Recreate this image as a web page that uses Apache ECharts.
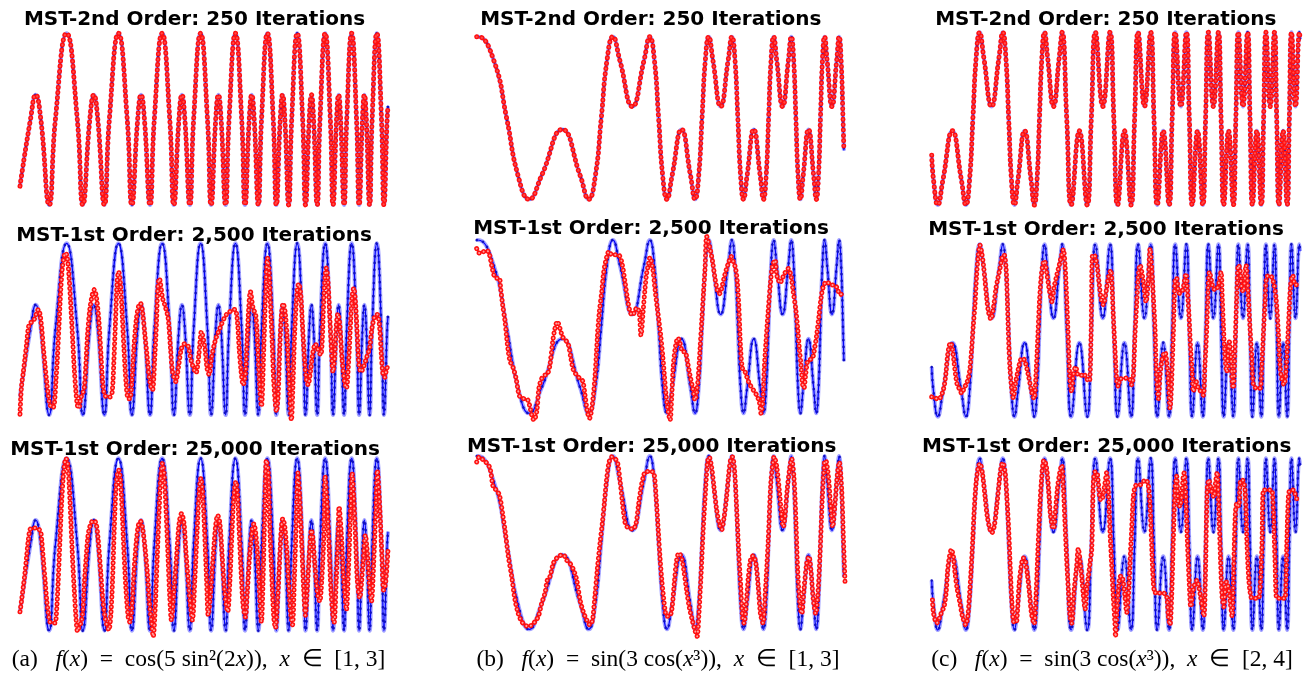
<!DOCTYPE html>
<html><head><meta charset="utf-8">
<script src="https://cdn.jsdelivr.net/npm/echarts@6/dist/echarts.min.js"></script>
<style>html,body{margin:0;padding:0;background:#fff}#c{width:1306px;height:675px}</style>
</head><body><div id="c"></div>
<script>
// ---------- data: true function curves (key points) ----------
const blueA = [[1.000,-0.78],[1.0571,0],[1.0854,0.284],[1.1130,0],[1.1586,-1],[1.1925,0],[1.2533,1],
[1.3113,0],[1.3414,-1],[1.3795,0],[1.4013,0.284],[1.4227,0],[1.4587,-1],[1.4858,0],[1.5350,1],
[1.5827,0],[1.6077,-1],[1.6396,0],[1.6580,0.284],[1.6762,0],[1.7068,-1],[1.7300,0],[1.7725,1],
[1.8139,0],[1.8358,-1],[1.8638,0],[1.8800,0.284],[1.8960,0],[1.9231,-1],[1.9438,0],[1.9817,1],
[2.0188,0],[2.0385,-1],[2.0637,0],[2.0784,0.284],[2.0929,0],[2.1175,-1],[2.1363,0],[2.1708,1],
[2.2048,0],[2.2228,-1],[2.2460,0],[2.2594,0.284],[2.2728,0],[2.2955,-1],[2.3128,0],[2.3447,1],
[2.3762,0],[2.3930,-1],[2.4145,0],[2.4270,0.284],[2.4395,0],[2.4606,-1],[2.4768,0],[2.5066,1],
[2.5361,0],[2.5518,-1],[2.5720,0],[2.5838,0.284],[2.5955,0],[2.6153,-1],[2.6306,0],[2.6587,1],
[2.6865,0],[2.7013,-1],[2.7204,0],[2.7316,0.284],[2.7426,0],[2.7615,-1],[2.7759,0],[2.8025,1],
[2.8289,0],[2.8430,-1],[2.8612,0],[2.8717,0.284],[2.8822,0],[2.9002,-1],[2.9139,0],[2.9393,1],
[2.9645,0],[2.9779,-1],[2.9953,0],[3.000,0.15]];

const blueB = [[1.0,0.999],[1.0065,1],[1.0930,0.707],[1.1624,0],[1.2243,-0.707],[1.2851,-1],[1.3525,-0.707],[1.4646,-0.141],[1.5618,-0.707],[1.6084,-1],[1.6446,-0.707],[1.6765,0],[1.7074,0.707],[1.7395,1],[1.7775,0.707],[1.8453,0.141],[1.9084,0.707],[1.9401,1],[1.9652,0.707],[1.9878,0],[2.0098,-0.707],[2.0332,-1],[2.0612,-0.707],[2.1123,-0.141],[2.1610,-0.707],[2.1859,-1],[2.2057,-0.707],[2.2237,0],[2.2414,0.707],[2.2602,1],[2.2830,0.707],[2.3249,0.141],[2.3653,0.707],[2.3862,1],[2.4028,0.707],[2.4180,0],[2.4330,-0.707],[2.4490,-1],[2.4684,-0.707],[2.5044,-0.141],[2.5394,-0.707],[2.5575,-1],[2.5720,-0.707],[2.5852,0],[2.5984,0.707],[2.6125,1],[2.6295,0.707],[2.6613,0.141],[2.6924,0.707],[2.7085,1],[2.7214,0.707],[2.7333,0],[2.7450,-0.707],[2.7576,-1],[2.7730,-0.707],[2.8017,-0.141],[2.8297,-0.707],[2.8443,-1],[2.8561,-0.707],[2.8668,0],[2.8775,0.707],[2.8890,1],[2.9030,0.707],[2.9292,0.141],[2.9549,0.707],[2.9683,1],[2.9790,0.707],[2.9890,0],[2.9940,-0.40]];

const blueC = [[2.0000,-0.423],[2.0098,-0.707],[2.0332,-1],[2.0612,-0.707],[2.1123,-0.141],[2.1610,-0.707],[2.1859,-1],[2.2057,-0.707],[2.2237,0],[2.2414,0.707],[2.2602,1],[2.2830,0.707],[2.3249,0.141],[2.3653,0.707],[2.3862,1],[2.4028,0.707],[2.4180,0],[2.4330,-0.707],[2.4490,-1],[2.4684,-0.707],[2.5044,-0.141],[2.5394,-0.707],[2.5575,-1],[2.5720,-0.707],[2.5852,0],[2.5984,0.707],[2.6125,1],[2.6295,0.707],[2.6613,0.141],[2.6924,0.707],[2.7085,1],[2.7333,0],[2.7576,-1],[2.8017,-0.141],[2.8443,-1],[2.8668,0],[2.8890,1],[2.9292,0.141],[2.9683,1],[2.9890,0],[3.0094,-1],[3.0465,-0.141],[3.0827,-1],[3.1019,0],[3.1208,1],[3.1554,0.141],[3.1891,1],[3.2071,0],[3.2249,-1],[3.2572,-0.141],[3.2890,-1],[3.3058,0],[3.3226,1],[3.3531,0.141],[3.3830,1],[3.3990,0],[3.4149,-1],[3.4437,-0.141],[3.4722,-1],[3.4873,0],[3.5024,1],[3.5298,0.141],[3.5569,1],[3.5714,0],[3.5858,-1],[3.6120,-0.141],[3.6379,-1],[3.6517,0],[3.6654,1],[3.6905,0.141],[3.7153,1],[3.7286,0],[3.7417,-1],[3.7659,-0.141],[3.7897,-1],[3.8025,0],[3.8151,1],[3.8383,0.141],[3.8613,1],[3.8735,0],[3.8857,-1],[3.9081,-0.141],[3.9302,-1],[3.9421,0],[3.9539,1],[3.9755,0.141],[3.9969,1],[4.0000,0.92]];

// ---------- data: approximations ----------
const redA2 = [[1.000,-0.99],[1.004,-0.80],[1.009,-0.65],[1.018,-0.50],[1.027,-0.34],[1.036,-0.17],[1.045,0.01],[1.054,0.07],[1.072,0.09],[1.087,0.17],[1.100,0.23],[1.109,0.17],[1.118,0.01],[1.127,-0.22],[1.136,-0.42],[1.145,-0.61],[1.154,-0.77],[1.163,-0.88],[1.177,-0.92],[1.186,-0.88],[1.195,-0.61],[1.203,-0.34],[1.212,0.05],[1.221,0.44],[1.230,0.71],[1.241,0.86],[1.248,0.89],[1.257,0.83],[1.266,0.63],[1.275,0.32],[1.286,-0.11],[1.295,-0.46],[1.304,-0.73],[1.313,-0.90],[1.320,-0.92],[1.329,-0.81],[1.340,-0.75],[1.349,-0.69],[1.358,-0.42],[1.367,-0.07],[1.380,0.24],[1.395,0.42],[1.404,0.46],[1.416,0.36],[1.429,0.09],[1.440,-0.30],[1.449,-0.61],[1.458,-0.75],[1.471,-0.79],[1.489,-0.79],[1.501,-0.73],[1.510,-0.38],[1.519,0.09],[1.528,0.55],[1.536,0.67],[1.545,0.55],[1.554,0.24],[1.565,-0.22],[1.576,-0.61],[1.588,-0.81],[1.597,-0.81],[1.608,-0.61],[1.619,-0.22],[1.633,0.13],[1.646,0.28],[1.655,0.30],[1.666,0.20],[1.679,-0.07],[1.690,-0.30],[1.699,-0.50],[1.709,-0.65],[1.720,-0.71],[1.733,-0.30],[1.742,0.09],[1.749,0.48],[1.757,0.59],[1.775,0.36],[1.787,0.28],[1.805,0.13],[1.818,-0.22],[1.829,-0.50],[1.847,-0.61],[1.860,-0.46],[1.878,-0.22],[1.896,-0.17],[1.914,-0.20],[1.932,-0.38],[1.956,-0.51],[1.972,-0.30],[1.986,-0.03],[2.005,-0.22],[2.017,-0.46],[2.028,-0.53],[2.041,-0.34],[2.059,-0.15],[2.086,0.01],[2.122,0.17],[2.167,0.23],[2.180,0.13],[2.191,-0.22],[2.202,-0.50],[2.213,-0.65],[2.225,-0.53],[2.234,-0.15],[2.243,0.24],[2.252,0.44],[2.267,0.24],[2.281,0.17],[2.294,-0.30],[2.303,-0.69],[2.312,-0.90],[2.325,-0.22],[2.334,0.36],[2.345,0.83],[2.354,0.67],[2.361,0.32],[2.372,-0.22],[2.379,-0.61],[2.394,-0.96],[2.403,-0.77],[2.412,-0.22],[2.421,0.17],[2.430,0.30],[2.441,0.20],[2.452,-0.11],[2.461,-0.53],[2.475,-1.06],[2.484,-0.61],[2.493,-0.03],[2.506,0.44],[2.515,0.53],[2.526,0.40],[2.535,0.05],[2.546,-0.34],[2.557,-0.59],[2.566,-0.65],[2.578,-0.50],[2.593,-0.26],[2.605,-0.17],[2.616,-0.22],[2.634,-0.30],[2.642,-0.15],[2.651,0.36],[2.660,0.67],[2.665,0.71],[2.674,0.55],[2.683,0.17],[2.692,-0.22],[2.701,-0.50],[2.710,-0.34],[2.719,0.05],[2.728,0.18],[2.738,0.05],[2.750,-0.34],[2.765,-0.63],[2.774,-0.69],[2.786,-0.38],[2.797,0.09],[2.806,0.40],[2.814,0.48],[2.823,0.32],[2.832,-0.03],[2.841,-0.38],[2.852,-0.50],[2.864,-0.46],[2.882,-0.34],[2.900,-0.22],[2.913,0.01],[2.928,0.15],[2.942,0.17],[2.955,0.01],[2.964,-0.30],[2.973,-0.53],[2.982,-0.56],[2.991,-0.48],[3.000,-0.42]];

const redA3 = [[1.000,-0.78],[1.009,-0.64],[1.018,-0.49],[1.027,-0.33],[1.036,-0.14],[1.045,0.05],[1.054,0.17],[1.063,0.19],[1.081,0.19],[1.100,0.18],[1.112,0.15],[1.118,0.05],[1.127,-0.18],[1.136,-0.41],[1.145,-0.64],[1.154,-0.80],[1.163,-0.90],[1.172,-0.91],[1.190,-0.91],[1.199,-0.76],[1.208,-0.41],[1.217,0.05],[1.226,0.48],[1.235,0.79],[1.244,0.96],[1.250,1.00],[1.259,0.94],[1.268,0.67],[1.277,0.25],[1.286,-0.18],[1.295,-0.53],[1.304,-0.84],[1.313,-1.01],[1.322,-0.95],[1.333,-0.90],[1.342,-0.76],[1.351,-0.41],[1.360,-0.14],[1.369,0.09],[1.380,0.21],[1.398,0.28],[1.413,0.25],[1.425,0.05],[1.438,-0.30],[1.449,-0.61],[1.462,-0.84],[1.474,-0.95],[1.483,-0.99],[1.494,-0.80],[1.503,-0.41],[1.512,0.17],[1.521,0.63],[1.530,0.83],[1.537,0.86],[1.546,0.75],[1.555,0.40],[1.564,-0.03],[1.575,-0.49],[1.588,-0.84],[1.597,-0.90],[1.610,-0.68],[1.620,-0.30],[1.633,0.05],[1.644,0.23],[1.655,0.27],[1.666,0.19],[1.679,-0.03],[1.692,-0.33],[1.702,-0.64],[1.715,-0.91],[1.724,-1.07],[1.735,-0.72],[1.746,-0.14],[1.757,0.44],[1.765,0.79],[1.774,0.94],[1.783,0.83],[1.792,0.48],[1.803,-0.06],[1.814,-0.61],[1.823,-0.88],[1.836,-0.57],[1.851,-0.14],[1.865,0.25],[1.878,0.36],[1.891,0.25],[1.901,-0.06],[1.914,-0.41],[1.927,-0.72],[1.937,-0.88],[1.950,-0.41],[1.963,0.17],[1.974,0.63],[1.983,0.77],[1.992,0.63],[2.003,0.17],[2.014,-0.41],[2.023,-0.82],[2.037,-0.53],[2.050,-0.14],[2.063,0.21],[2.074,0.34],[2.086,0.25],[2.099,-0.14],[2.110,-0.49],[2.122,-0.72],[2.129,-0.78],[2.140,-0.45],[2.151,0.09],[2.162,0.56],[2.173,0.73],[2.182,0.59],[2.191,0.17],[2.202,-0.33],[2.213,-0.72],[2.225,-0.84],[2.236,-0.53],[2.249,-0.10],[2.262,0.17],[2.271,0.24],[2.281,0.13],[2.294,-0.22],[2.303,-0.61],[2.312,-0.90],[2.321,-0.41],[2.330,0.36],[2.339,0.98],[2.350,0.83],[2.357,0.25],[2.368,-0.33],[2.379,-0.84],[2.388,-0.97],[2.401,-0.61],[2.412,-0.14],[2.421,0.21],[2.428,0.30],[2.439,0.21],[2.452,-0.14],[2.462,-0.53],[2.473,-0.84],[2.481,-0.93],[2.491,-0.41],[2.502,0.32],[2.510,0.83],[2.520,0.56],[2.531,0.01],[2.542,-0.53],[2.551,-0.82],[2.562,-0.49],[2.575,-0.03],[2.584,0.17],[2.593,0.05],[2.602,-0.22],[2.611,-0.45],[2.620,-0.61],[2.629,-0.66],[2.640,-0.41],[2.651,0.09],[2.658,0.79],[2.669,0.48],[2.680,-0.03],[2.690,-0.53],[2.701,-0.84],[2.707,-0.91],[2.719,-0.41],[2.730,0.17],[2.734,0.44],[2.745,0.17],[2.756,-0.30],[2.767,-0.61],[2.774,-0.76],[2.785,-0.30],[2.796,0.36],[2.805,0.83],[2.814,0.56],[2.824,0.05],[2.833,-0.41],[2.846,-0.62],[2.864,-0.22],[2.877,0.11],[2.888,-0.10],[2.900,-0.49],[2.910,-0.66],[2.922,-0.22],[2.933,0.36],[2.942,0.86],[2.955,0.44],[2.967,-0.14],[2.976,-0.53],[2.987,-0.45],[3.000,-0.06]];

const redB2 = [[1.000,0.90],[1.014,0.85],[1.027,0.85],[1.040,0.87],[1.054,0.88],[1.067,0.85],[1.081,0.71],[1.096,0.58],[1.109,0.56],[1.123,0.56],[1.130,0.44],[1.141,0.25],[1.154,0.06],[1.163,-0.13],[1.172,-0.29],[1.181,-0.40],[1.190,-0.44],[1.199,-0.48],[1.214,-0.60],[1.226,-0.75],[1.235,-0.81],[1.253,-0.83],[1.275,-0.84],[1.286,-0.90],[1.299,-1.02],[1.311,-1.08],[1.326,-0.98],[1.338,-0.71],[1.353,-0.60],[1.371,-0.56],[1.384,-0.55],[1.398,-0.44],[1.413,-0.17],[1.425,-0.02],[1.438,0.06],[1.452,-0.02],[1.467,-0.12],[1.481,-0.15],[1.498,-0.21],[1.512,-0.37],[1.525,-0.50],[1.543,-0.56],[1.561,-0.60],[1.576,-0.63],[1.588,-0.79],[1.601,-0.98],[1.612,-1.06],[1.628,-0.90],[1.643,-0.56],[1.655,-0.13],[1.666,0.17],[1.679,0.40],[1.688,0.60],[1.700,0.75],[1.719,0.87],[1.733,0.83],[1.751,0.83],[1.769,0.83],[1.787,0.75],[1.805,0.52],[1.818,0.33],[1.833,0.17],[1.847,0.13],[1.860,0.19],[1.872,0.22],[1.883,0.15],[1.892,-0.10],[1.905,0.21],[1.914,0.44],[1.923,0.62],[1.932,0.71],[1.941,0.80],[1.956,0.67],[1.968,0.44],[1.981,0.21],[1.990,0.06],[1.999,-0.10],[2.010,-0.33],[2.019,-0.56],[2.028,-0.79],[2.037,-0.94],[2.050,-1.08],[2.059,-0.81],[2.068,-0.44],[2.081,-0.21],[2.093,-0.13],[2.104,-0.19],[2.118,-0.29],[2.131,-0.29],[2.144,-0.40],[2.158,-0.56],[2.173,-0.71],[2.186,-0.85],[2.195,-0.75],[2.204,-0.56],[2.213,-0.25],[2.222,0.06],[2.231,0.37],[2.240,0.67],[2.249,1.04],[2.267,0.90],[2.281,0.75],[2.294,0.56],[2.307,0.42],[2.318,0.38],[2.330,0.44],[2.343,0.56],[2.357,0.67],[2.370,0.75],[2.381,0.81],[2.394,0.75],[2.406,0.67],[2.415,0.52],[2.424,0.21],[2.433,-0.25],[2.443,-0.48],[2.457,-0.52],[2.470,-0.60],[2.484,-0.67],[2.502,-0.73],[2.520,-0.79],[2.535,-0.87],[2.544,-1.00],[2.553,-0.87],[2.562,-0.48],[2.571,-0.17],[2.584,0.21],[2.596,0.52],[2.607,0.71],[2.620,0.77],[2.629,0.60],[2.638,0.54],[2.647,0.50],[2.660,0.56],[2.674,0.62],[2.692,0.67],[2.707,0.58],[2.719,0.40],[2.732,0.21],[2.743,-0.02],[2.752,-0.25],[2.761,-0.44],[2.770,-0.67],[2.777,-0.71],[2.786,-0.56],[2.797,-0.40],[2.810,-0.38],[2.823,-0.37],[2.832,-0.29],[2.846,-0.10],[2.859,0.13],[2.870,0.33],[2.882,0.46],[2.900,0.52],[2.913,0.50],[2.928,0.48],[2.946,0.48],[2.958,0.44],[2.973,0.37],[2.986,0.38],[3.000,0.40]];

const redB3 = [[1.000,0.93],[1.014,0.99],[1.033,0.96],[1.054,0.92],[1.072,0.86],[1.090,0.64],[1.105,0.61],[1.123,0.55],[1.141,0.33],[1.154,0.14],[1.172,-0.16],[1.190,-0.39],[1.208,-0.66],[1.226,-0.82],[1.244,-0.91],[1.262,-0.95],[1.280,-0.97],[1.299,-0.95],[1.317,-0.91],[1.335,-0.85],[1.353,-0.70],[1.371,-0.58],[1.384,-0.43],[1.398,-0.39],[1.416,-0.24],[1.434,-0.18],[1.452,-0.15],[1.470,-0.14],[1.488,-0.20],[1.507,-0.24],[1.525,-0.31],[1.543,-0.43],[1.561,-0.66],[1.579,-0.80],[1.597,-0.89],[1.615,-0.95],[1.629,-0.89],[1.642,-0.62],[1.655,-0.31],[1.670,0.00],[1.682,0.22],[1.693,0.45],[1.705,0.72],[1.718,0.92],[1.733,0.99],[1.751,0.97],[1.765,0.92],[1.778,0.72],[1.792,0.45],[1.805,0.24],[1.818,0.18],[1.833,0.17],[1.847,0.15],[1.865,0.22],[1.878,0.42],[1.892,0.63],[1.905,0.76],[1.917,0.82],[1.932,0.82],[1.950,0.82],[1.963,0.80],[1.974,0.53],[1.986,0.14],[1.995,-0.16],[2.005,-0.43],[2.014,-0.62],[2.023,-0.78],[2.032,-0.85],[2.046,-0.85],[2.059,-0.78],[2.073,-0.47],[2.086,-0.20],[2.098,-0.12],[2.113,-0.18],[2.127,-0.35],[2.140,-0.55],[2.154,-0.74],[2.170,-0.89],[2.185,-1.01],[2.197,-1.08],[2.206,-0.85],[2.217,-0.43],[2.230,0.15],[2.243,0.61],[2.253,0.92],[2.262,0.99],[2.275,0.88],[2.288,0.65],[2.303,0.38],[2.317,0.22],[2.330,0.15],[2.342,0.27],[2.357,0.53],[2.369,0.80],[2.380,0.97],[2.389,0.99],[2.400,0.84],[2.411,0.42],[2.423,-0.12],[2.434,-0.51],[2.443,-0.85],[2.452,-0.93],[2.461,-0.78],[2.474,-0.43],[2.487,-0.20],[2.502,-0.15],[2.516,-0.24],[2.529,-0.51],[2.541,-0.82],[2.555,-0.93],[2.568,-0.55],[2.583,0.02],[2.597,0.68],[2.610,0.95],[2.615,0.99],[2.629,0.88],[2.643,0.61],[2.656,0.30],[2.665,0.18],[2.674,0.30],[2.686,0.61],[2.701,0.88],[2.710,0.97],[2.723,0.75],[2.734,0.22],[2.743,-0.32],[2.756,-0.74],[2.765,-0.82],[2.777,-0.55],[2.792,-0.24],[2.804,-0.16],[2.815,-0.32],[2.828,-0.66],[2.841,-0.82],[2.852,-0.62],[2.864,-0.16],[2.877,0.53],[2.888,0.92],[2.895,0.95],[2.910,0.76],[2.922,0.42],[2.933,0.18],[2.946,0.45],[2.959,0.80],[2.969,0.93],[2.982,0.61],[2.991,0.07],[3.000,-0.45]];

const redC2 = [[2.000,-0.77],[2.018,-0.78],[2.036,-0.80],[2.049,-0.77],[2.060,-0.71],[2.069,-0.63],[2.078,-0.48],[2.087,-0.28],[2.096,-0.17],[2.103,-0.14],[2.112,-0.21],[2.121,-0.36],[2.130,-0.52],[2.139,-0.63],[2.154,-0.69],[2.163,-0.73],[2.176,-0.67],[2.190,-0.61],[2.199,-0.55],[2.208,-0.44],[2.217,-0.21],[2.226,0.06],[2.235,0.30],[2.244,0.64],[2.253,0.88],[2.262,0.99],[2.271,0.91],[2.281,0.76],[2.290,0.57],[2.299,0.37],[2.308,0.22],[2.322,0.13],[2.335,0.26],[2.349,0.49],[2.358,0.59],[2.371,0.72],[2.382,0.84],[2.393,0.88],[2.404,0.72],[2.411,0.33],[2.418,-0.13],[2.425,-0.44],[2.434,-0.67],[2.443,-0.78],[2.456,-0.60],[2.471,-0.44],[2.483,-0.34],[2.494,-0.32],[2.507,-0.36],[2.525,-0.52],[2.543,-0.71],[2.556,-0.79],[2.567,-0.48],[2.576,-0.09],[2.585,0.33],[2.594,0.61],[2.603,0.76],[2.612,0.81],[2.624,0.68],[2.637,0.49],[2.648,0.37],[2.653,0.33],[2.664,0.49],[2.679,0.64],[2.693,0.76],[2.706,0.88],[2.715,0.94],[2.724,0.76],[2.733,0.37],[2.742,-0.13],[2.748,-0.48],[2.755,-0.67],[2.760,-0.71],[2.769,-0.52],[2.782,-0.42],[2.796,-0.52],[2.814,-0.52],[2.824,-0.50],[2.842,-0.56],[2.856,-0.59],[2.865,-0.10],[2.874,0.88],[2.887,0.86],[2.900,0.72],[2.910,0.53],[2.923,0.33],[2.932,0.30],[2.947,0.45],[2.959,0.61],[2.972,0.70],[2.986,0.18],[2.995,-0.21],[3.005,-0.59],[3.014,-0.65],[3.023,-0.56],[3.041,-0.56],[3.059,-0.55],[3.077,-0.57],[3.086,-0.63],[3.095,-0.52],[3.104,-0.05],[3.113,0.30],[3.122,0.64],[3.131,0.76],[3.149,0.57],[3.164,0.33],[3.176,0.57],[3.186,0.95],[3.195,0.72],[3.204,0.37],[3.213,0.01],[3.218,-0.40],[3.225,-0.67],[3.231,-0.79],[3.240,-0.52],[3.249,-0.36],[3.258,-0.28],[3.267,-0.25],[3.276,-0.36],[3.285,-0.59],[3.294,-0.90],[3.312,-0.05],[3.321,0.57],[3.330,0.61],[3.339,0.45],[3.348,0.43],[3.363,0.47],[3.381,0.66],[3.388,0.49],[3.397,0.18],[3.406,-0.21],[3.415,-0.52],[3.421,-0.71],[3.435,-0.59],[3.448,-0.67],[3.462,-0.71],[3.475,-0.75],[3.484,-0.40],[3.493,-0.01],[3.502,0.53],[3.508,0.68],[3.520,0.57],[3.529,0.49],[3.544,0.47],[3.557,0.53],[3.571,0.68],[3.578,0.37],[3.584,0.06],[3.593,-0.32],[3.602,-0.48],[3.611,-0.21],[3.616,-0.13],[3.625,-0.32],[3.633,-0.63],[3.638,-0.67],[3.647,-0.21],[3.656,0.37],[3.665,0.76],[3.674,0.72],[3.683,0.49],[3.692,0.45],[3.707,0.76],[3.719,0.41],[3.729,0.01],[3.738,-0.32],[3.747,-0.63],[3.765,-0.67],[3.783,-0.67],[3.792,-0.44],[3.801,-0.05],[3.810,0.33],[3.819,0.62],[3.837,0.64],[3.855,0.57],[3.870,0.37],[3.882,-0.01],[3.891,-0.40],[3.900,-0.55],[3.913,-0.63],[3.922,-0.52],[3.931,-0.21],[3.940,0.18],[3.949,0.53],[3.960,0.64],[3.973,0.53],[3.985,0.53],[4.000,0.53]];

const redC3 = [[2.004,-0.65],[2.009,-0.79],[2.018,-0.88],[2.027,-0.92],[2.042,-0.86],[2.054,-0.79],[2.067,-0.73],[2.078,-0.57],[2.087,-0.30],[2.096,-0.15],[2.107,-0.06],[2.118,-0.15],[2.127,-0.34],[2.139,-0.53],[2.154,-0.69],[2.167,-0.84],[2.185,-0.94],[2.196,-0.84],[2.205,-0.61],[2.214,-0.30],[2.223,0.05],[2.230,0.36],[2.241,0.71],[2.253,0.90],[2.262,0.94],[2.275,0.83],[2.290,0.55],[2.302,0.32],[2.317,0.17],[2.326,0.13],[2.339,0.20],[2.353,0.44],[2.366,0.71],[2.377,0.90],[2.386,0.95],[2.399,0.83],[2.408,0.55],[2.418,0.17],[2.427,-0.30],[2.436,-0.69],[2.447,-0.91],[2.459,-0.91],[2.466,-0.77],[2.475,-0.46],[2.486,-0.26],[2.497,-0.16],[2.507,-0.18],[2.520,-0.36],[2.531,-0.57],[2.542,-0.81],[2.556,-0.93],[2.568,-0.53],[2.577,-0.07],[2.586,0.36],[2.595,0.71],[2.604,0.94],[2.610,0.98],[2.623,0.90],[2.635,0.63],[2.644,0.36],[2.655,0.20],[2.662,0.18],[2.671,0.36],[2.682,0.63],[2.695,0.83],[2.706,0.92],[2.715,0.67],[2.724,0.24],[2.733,-0.18],[2.742,-0.53],[2.751,-0.84],[2.760,-0.92],[2.774,-0.53],[2.787,-0.26],[2.796,-0.05],[2.806,-0.20],[2.815,-0.38],[2.824,-0.61],[2.833,-0.76],[2.842,-0.53],[2.851,-0.37],[2.860,-0.22],[2.869,-0.06],[2.878,0.73],[2.887,0.84],[2.896,0.84],[2.905,0.71],[2.914,0.53],[2.923,0.51],[2.932,0.59],[2.941,0.71],[2.950,0.83],[2.959,0.63],[2.968,0.17],[2.977,-0.22],[2.986,-0.61],[2.995,-0.92],[2.998,-1.08],[3.005,-0.81],[3.014,-0.53],[3.023,-0.38],[3.032,-0.37],[3.041,-0.46],[3.050,-0.61],[3.059,-0.80],[3.068,-0.61],[3.077,-0.22],[3.086,0.17],[3.095,0.55],[3.104,0.67],[3.113,0.69],[3.131,0.69],[3.149,0.73],[3.163,0.75],[3.176,0.69],[3.186,0.44],[3.195,-0.03],[3.204,-0.46],[3.213,-0.57],[3.222,-0.55],[3.240,-0.57],[3.258,-0.57],[3.276,-0.61],[3.285,-0.84],[3.294,-0.94],[3.303,-0.61],[3.312,0.05],[3.321,0.63],[3.330,0.79],[3.339,0.48],[3.348,0.44],[3.357,0.55],[3.366,0.79],[3.371,0.83],[3.380,0.55],[3.389,0.01],[3.398,-0.42],[3.407,-0.73],[3.421,-0.53],[3.433,-0.44],[3.442,-0.42],[3.451,-0.50],[3.460,-0.61],[3.478,-0.84],[3.487,-0.30],[3.496,0.63],[3.505,0.75],[3.514,0.67],[3.523,0.59],[3.532,0.55],[3.541,0.71],[3.550,0.84],[3.559,0.44],[3.568,-0.15],[3.577,-0.61],[3.586,-0.73],[3.595,-0.50],[3.601,-0.44],[3.613,-0.53],[3.622,-0.69],[3.631,-0.84],[3.640,-0.30],[3.649,0.36],[3.658,0.48],[3.667,0.44],[3.676,0.73],[3.685,0.75],[3.694,0.73],[3.703,0.59],[3.712,0.01],[3.721,-0.38],[3.730,-0.57],[3.739,-0.63],[3.757,-0.63],[3.775,-0.63],[3.793,-0.05],[3.802,0.63],[3.820,0.63],[3.838,0.63],[3.847,0.63],[3.856,0.36],[3.865,-0.22],[3.874,-0.63],[3.892,-0.63],[3.910,-0.63],[3.919,-0.63],[3.928,-0.03],[3.937,0.55],[3.946,0.63],[3.964,0.63],[3.973,0.59],[3.982,0.53],[4.000,0.53]];

const rowTitles = ['MST-2nd Order: 250 Iterations', 'MST-1st Order: 2,500 Iterations', 'MST-1st Order: 25,000 Iterations'];
const xDomains = [[1, 3], [1, 3], [2, 4]];
const captionA = [['(a)   ','n'],['f','i'],['(','n'],['x','i'],[')  =  cos(5 sin²(2','n'],['x','i'],[')),  ','n'],['x','i'],['  ∈  [1, 3]','n']];
const captionB = [['(b)   ','n'],['f','i'],['(','n'],['x','i'],[')  =  sin(3 cos(','n'],['x','i'],['³)),  ','n'],['x','i'],['  ∈  [1, 3]','n']];
const captionC = [['(c)   ','n'],['f','i'],['(','n'],['x','i'],[')  =  sin(3 cos(','n'],['x','i'],['³)),  ','n'],['x','i'],['  ∈  [2, 4]','n']];

// ---------- layout ----------
const boxes = [ // left, top, width, height (value 1 at top, -1 at bottom)
  [20,33.3,368,171.7],[476.7,36.7,368.3,162.6],[931.7,32.3,368.3,172.7],
  [20,243.3,368,171.7],[476.7,240,368.3,173.3],[931.7,244.3,368.3,172.4],
  [20,458.3,368,172.4],[476.7,456,368.3,173.3],[931.7,458.3,368.3,171.7]];
const titlePos = [[194.5,19.5],[650.8,19.5],[1105.8,19.5],[194,235.5],[651,229],[1106,229.8],[195,450],[651.7,446.5],[1106.7,447.2]];
const captionPos = [[198.5,660],[658,660],[1112,660]];

const blues = [blueA, blueB, blueC];
const reds = [[blueA, blueB, blueC],[redA2, redB2, redC2],[redA3, redB3, redC3]];

const grid = [], xAxis = [], yAxis = [], series = [];
boxes.forEach((b, i) => {
  const r = Math.floor(i / 3), c = i % 3;
  grid.push({left: b[0], top: b[1], width: b[2], height: b[3], containLabel: false});
  xAxis.push({gridIndex: i, type: 'value', min: xDomains[c][0], max: xDomains[c][1], show: false});
  yAxis.push({gridIndex: i, type: 'value', min: -1, max: 1, show: false});
  const common = {type: 'line', xAxisIndex: i, yAxisIndex: i, symbol: 'none', clip: false, silent: true, animation: false};
  series.push(Object.assign({}, common, {data: blues[c], smooth: 0.5, z: 2,
    lineStyle: {color: 'rgba(70,70,255,0.5)', width: 4}}));
  series.push(Object.assign({}, common, {data: blues[c], smooth: 0.5, z: 3,
    lineStyle: {color: '#0000ff', width: 1.2}}));
  series.push(Object.assign({}, common, {data: blues[c], smooth: 0.5, z: 3,
    lineStyle: {color: '#1010c0', width: 2.6, type: [0.1, 6.5], cap: 'round'}}));
  const rd = reds[r][c];
  const sm = r === 0 ? 0.5 : 0.3;
  const gap = r === 0 ? 5.2 : 4.8;
  series.push(Object.assign({}, common, {data: rd, smooth: sm, z: 5,
    lineStyle: {color: '#ff1010', width: 5, type: [0.1, gap], cap: 'round'}}));
  series.push(Object.assign({}, common, {data: rd, smooth: sm, z: 6,
    lineStyle: {color: r === 0 ? '#ff4a4a' : '#ffa0a0', width: r === 0 ? 2.2 : 2, type: [0.1, gap], cap: 'round'}}));
});

const graphics = [];
titlePos.forEach((p, i) => {
  graphics.push({type: 'text', x: p[0], y: p[1], z: 0, silent: true,
    style: {text: rowTitles[Math.floor(i / 3)], font: 'bold 20px "DejaVu Sans"', fill: '#000',
      align: 'center', verticalAlign: 'middle', textAlign: 'center', textVerticalAlign: 'middle'}});
});
[captionA, captionB, captionC].forEach((cap, i) => {
  graphics.push({type: 'text', x: captionPos[i][0], y: captionPos[i][1], z: 0, silent: true,
    style: {text: cap.map(s => '{' + s[1] + '|' + s[0] + '}').join(''),
      align: 'center', verticalAlign: 'middle', textAlign: 'center', textVerticalAlign: 'middle',
      rich: {
        n: {fontFamily: 'Liberation Serif', fontSize: 23.5, fill: '#000', color: '#000'},
        i: {fontFamily: 'Liberation Serif', fontSize: 23.5, fontStyle: 'italic', fill: '#000', color: '#000'}
      }}});
});

const chart = echarts.init(document.getElementById('c'), null, {renderer: 'canvas'});
chart.setOption({animation: false, backgroundColor: '#fff', grid, xAxis, yAxis, series, graphic: {elements: graphics}});
</script>
</body></html>
